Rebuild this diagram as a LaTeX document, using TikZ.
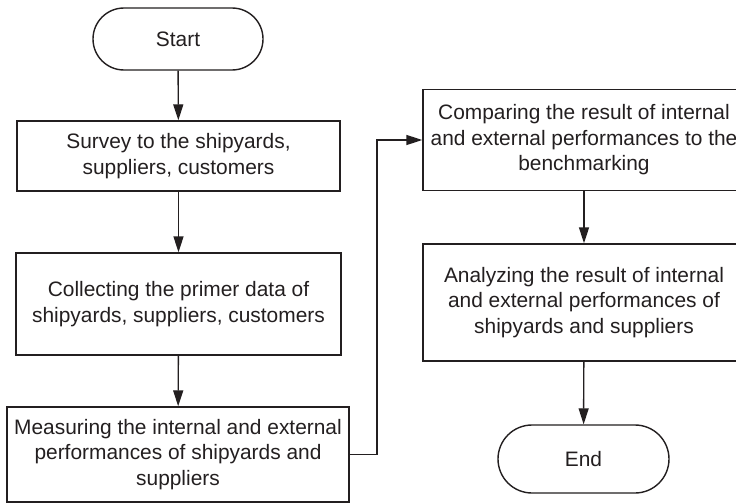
\documentclass[tikz,border=0pt]{standalone}
\usepackage{fontspec}
\setmainfont{Liberation Sans}
\usetikzlibrary{arrows.meta}
\definecolor{ink}{RGB}{35,31,32}
\begin{document}
\begin{tikzpicture}[x=1pt,y=-1pt,
  every node/.style={font=\fontsize{20.9}{25.5}\selectfont, text=ink},
  procbox/.style={draw=ink, line width=1.4pt, rectangle, align=center, inner sep=0pt},
  termbox/.style={draw=ink, line width=1.4pt, rectangle, rounded corners=#1, inner sep=0pt},
  flow/.style={draw=ink, line width=1.4pt, -{Triangle[length=16pt,width=10pt]}}
]
\useasboundingbox (0,0) rectangle (736,503);
\clip (0,0) rectangle (736,503);
\fill[white] (0,0) rectangle (736,503);

\node[termbox=31pt, minimum width=170pt, minimum height=62pt] (start) at (178,39) {Start};
\node[procbox, minimum width=323pt, minimum height=70pt] (survey) at (178.5,156)
  {Survey to the shipyards,\\suppliers, customers};
\node[procbox, minimum width=325pt, minimum height=102pt] (collect) at (178.5,304)
  {Collecting the primer data of\\shipyards, suppliers, customers};
\node[procbox, minimum width=342pt, minimum height=95pt] (measure) at (178,454.5)
  {Measuring the internal and external\\performances of shipyards and\\suppliers};
\node[procbox, minimum width=322pt, minimum height=101pt] (compare) at (584,140)
  {Comparing the result of internal\\and external performances to the\\benchmarking};
\node[procbox, minimum width=322pt, minimum height=117pt] (analyze) at (584,302.5)
  {Analyzing the result of internal\\and external performances of\\shipyards and suppliers};
\node[termbox=34pt, minimum width=171pt, minimum height=68pt] (end) at (583.5,459) {End};

\coordinate (jog) at (377,0);

\draw[flow] (start) -- (survey);
\draw[flow] (survey) -- (collect);
\draw[flow] (collect) -- (measure);
\draw[flow] (measure.east) -| (jog |- compare.west) -- (compare.west);
\draw[flow] (compare) -- (analyze);
\draw[flow] (analyze) -- (end);
\end{tikzpicture}
\end{document}
